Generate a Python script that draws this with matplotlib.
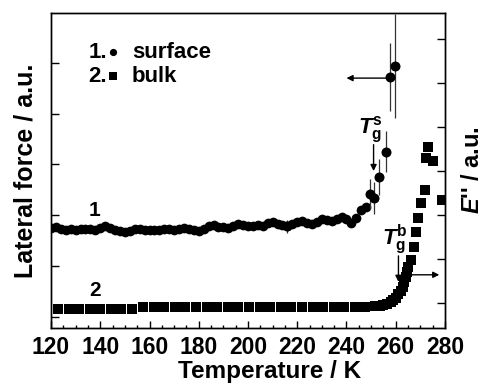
import matplotlib
matplotlib.use("Agg")
import matplotlib.pyplot as plt
from matplotlib.ticker import MultipleLocator, NullFormatter

plt.rcParams['font.family'] = ['Liberation Sans', 'DejaVu Sans']
plt.rcParams['font.weight'] = 'bold'
plt.rcParams['mathtext.fontset'] = 'custom'
plt.rcParams['mathtext.rm'] = 'Liberation Sans:bold'
plt.rcParams['mathtext.it'] = 'Liberation Sans:italic:bold'
plt.rcParams['mathtext.bf'] = 'Liberation Sans:bold'

# Lateral force of the surface (curve 1), left axis
surface_T = [120, 122, 124, 126, 128, 130, 132, 134, 136, 138, 140, 142, 144, 146,
             148, 150, 152, 154, 156, 158, 160, 162, 164, 166, 168, 170, 172, 174,
             176, 178, 180, 182, 184, 186, 188, 190, 192, 194, 196, 198, 200, 202,
             204, 206, 208, 210, 212, 214, 216, 218, 220, 222, 224, 226, 228, 230,
             232, 234, 236, 238, 240, 242, 244, 246, 248]
surface_v = [1.75, 1.77, 1.72, 1.70, 1.72, 1.71, 1.73, 1.73, 1.72, 1.71, 1.74, 1.78,
             1.74, 1.71, 1.69, 1.68, 1.69, 1.72, 1.72, 1.71, 1.70, 1.70, 1.70, 1.72,
             1.73, 1.71, 1.73, 1.75, 1.73, 1.71, 1.69, 1.72, 1.79, 1.80, 1.77, 1.76,
             1.74, 1.78, 1.83, 1.80, 1.78, 1.79, 1.80, 1.78, 1.84, 1.87, 1.83, 1.80,
             1.78, 1.82, 1.86, 1.88, 1.84, 1.83, 1.87, 1.92, 1.90, 1.88, 1.93, 1.96,
             1.92, 1.84, 1.95, 2.10, 2.17]

# Surface points measured with error bars
surface_err_T = [216, 249.4, 251.1, 253.4, 256.1, 257.5, 259.9]
surface_err_v = [1.78, 2.42, 2.34, 2.75, 3.25, 4.72, 4.94]
surface_err = [0.13, 0.30, 0.31, 0.35, 0.40, 0.67, 1.02]

# Loss modulus E'' of the bulk (curve 2), right axis
bulk_T = [123.0, 127.2, 131.5, 135.7, 140.0, 144.2, 148.4, 152.7,
          157.4, 161.7, 166.0, 170.3, 174.6, 178.9, 183.2, 187.5, 191.8, 196.1,
          200.4, 204.7, 209.0, 213.3, 217.6, 221.9, 226.2, 230.5, 234.8, 239.1,
          243.4, 247.7, 251.5,
          253.5, 255.0, 256.5, 258.0, 259.0, 260.0, 261.0, 262.0, 262.8, 263.5,
          264.0, 264.5, 265.0,
          266.3, 267.5, 268.3, 269.0, 270.3, 271.7, 272.3, 273.0, 275.0, 278.8]
bulk_v = [-0.13, -0.13, -0.13, -0.13, -0.13, -0.13, -0.13, -0.13,
          -0.085, -0.085, -0.085, -0.085, -0.085, -0.085, -0.085, -0.085, -0.085,
          -0.085, -0.085, -0.085, -0.085, -0.085, -0.085, -0.085, -0.085, -0.085,
          -0.085, -0.085, -0.085, -0.085, -0.08,
          -0.07, -0.05, -0.02, 0.02, 0.06, 0.12, 0.20, 0.28, 0.37, 0.47,
          0.58, 0.70, 0.82,
          0.98, 1.28, 1.62, 1.93, 2.28, 2.56, 3.29, 3.54, 3.22, 2.34]

x_ticks = [120, 140, 160, 180, 200, 220, 240, 260, 280]

fig = plt.figure(figsize=(4.83, 3.85), dpi=100)
ax = fig.add_axes([0.1056, 0.148, 0.8157, 0.818])
ax2 = ax.twinx()

ax.plot(surface_T, surface_v, 'o', color='black', ms=7.0, mew=0, zorder=3)
ax.errorbar(surface_err_T, surface_err_v, yerr=surface_err, fmt='o', color='black',
            ms=7.2, mew=0, ecolor='#333333', elinewidth=0.9, capsize=3.5,
            capthick=0.9, zorder=3)
ax2.plot(bulk_T, bulk_v, 's', color='black', ms=7.3, mew=0, zorder=3)

ax.set_xlim(120, 280)
ax.set_ylim(-0.22, 5.98)
ax2.set_ylim(-0.57, 6.59)

ax.set_xticks(x_ticks)
ax.xaxis.set_minor_locator(MultipleLocator(5))
ax.set_yticks(range(0, 6))
ax.yaxis.set_major_formatter(NullFormatter())
ax2.set_yticks(range(0, 7))
ax2.yaxis.set_major_formatter(NullFormatter())

ax.tick_params(axis='x', which='major', direction='in', length=5, width=1,
               labelsize=16.5, pad=6, top=False)
ax.tick_params(axis='x', which='minor', direction='in', length=2.5, width=1, top=False)
ax.tick_params(axis='y', which='major', direction='in', length=5.8, width=1)
ax2.tick_params(axis='y', which='major', direction='in', length=5.8, width=1)
for lab in ax.get_xticklabels():
    lab.set_fontweight('bold')

for a in (ax, ax2):
    for s in a.spines.values():
        s.set_linewidth(1.0)

ax.set_xlabel('Temperature / K', fontsize=17.5, fontweight='bold')
ax.xaxis.set_label_coords(0.555, -0.103)
ax.set_ylabel('Lateral force / a.u.', fontsize=18, fontweight='bold', labelpad=6)
ax2.set_ylabel("$E$'' / a.u.", fontsize=17, fontweight='bold', rotation=90, labelpad=8)

# Curve numbers
ax.text(137.8, 2.1, '1', fontsize=15, fontweight='bold', ha='center', va='center')
ax.text(137.8, 0.51, '2', fontsize=15, fontweight='bold', ha='center', va='center')

# Key
ax.text(0.095, 0.876, '1.', transform=ax.transAxes, fontsize=16, fontweight='bold',
        ha='left', va='center')
ax.plot([0.158], [0.876], 'o', color='black', ms=5.2, mew=0, transform=ax.transAxes)
ax.text(0.205, 0.876, 'surface', transform=ax.transAxes, fontsize=16, fontweight='bold',
        ha='left', va='center')
ax.text(0.095, 0.800, '2.', transform=ax.transAxes, fontsize=16, fontweight='bold',
        ha='left', va='center')
ax.plot([0.158], [0.800], 's', color='black', ms=5.2, mew=0, transform=ax.transAxes)
ax.text(0.205, 0.800, 'bulk', transform=ax.transAxes, fontsize=16, fontweight='bold',
        ha='left', va='center')

arrow = dict(arrowstyle='-|>', color='black', lw=1.0, mutation_scale=9,
             shrinkA=0, shrinkB=0)

# Glass transition markers
ax.annotate('', xy=(251.0, 2.87), xytext=(251.0, 3.39), arrowprops=arrow)
ax.text(249.8, 3.38, r'$T_{\mathrm{g}}^{\mathrm{s}}$', fontsize=16, ha='center', va='bottom')
ax2.annotate('', xy=(261.1, 0.48), xytext=(261.1, 1.07), arrowprops=arrow)
ax2.text(259.8, 1.06, r'$T_{\mathrm{g}}^{\mathrm{b}}$', fontsize=16, ha='center', va='bottom')

# Axis assignment arrows
ax.annotate('', xy=(240.0, 4.70), xytext=(256.5, 4.70), arrowprops=arrow)
ax2.annotate('', xy=(277.7, 0.64), xytext=(264.8, 0.64), arrowprops=arrow)

fig.savefig('out.png', dpi=100)
